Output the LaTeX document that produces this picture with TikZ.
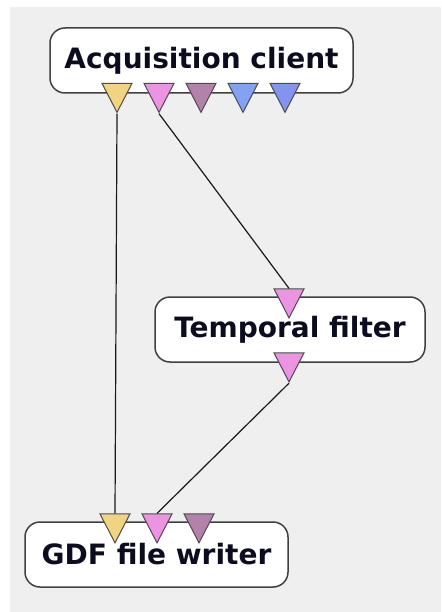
\documentclass[tikz,border=0pt]{standalone}
\usepackage{fontspec}
\setmainfont{DejaVu Sans}
\usetikzlibrary{math, shapes.geometric}

\definecolor{bggray}{HTML}{EFEFEF}
\definecolor{textnavy}{HTML}{0C0C20}
\definecolor{portyellow}{HTML}{F0D482}
\definecolor{portpink}{HTML}{EA94E2}
\definecolor{portmauve}{HTML}{B282AA}
\definecolor{portblue}{HTML}{84A2F2}
\definecolor{portviolet}{HTML}{8494EC}

\begin{document}
\begin{tikzpicture}[x=1pt, y=-1pt, line width=1.5pt,
    block/.style={draw=black!75, fill=white, rounded corners=15pt, minimum height=65pt,
        inner sep=0pt, font=\fontsize{28}{32}\selectfont\bfseries, text=textnavy},
    port/.style={isosceles triangle, isosceles triangle stretches, shape border rotate=270,
        minimum width=30pt, minimum height=29pt, inner sep=0pt,
        draw=black!70, line width=1pt, fill=#1},
    link/.style={draw=black!90, line width=1.2pt}]
    \tikzmath{
        \portstep=42;
        \acx=117;
        \gwx=115;
    }

    \useasboundingbox (0, 0) rectangle (441, 612);
    \fill [bggray] (10, 7) rectangle (441, 612);

    % boxes
    \node [block, minimum width=303pt] (acq) at (201.5, 60.5) {Acquisition client};
    \node [block, minimum width=270pt] (filt) at (290, 329.5) {Temporal filter};
    \node [block, minimum width=263pt] (gdf) at (156.5, 554.5) {GDF file writer};

    % outputs of the acquisition client
    \node [port=portyellow] (acq1) at (\acx, 92.5) {};
    \node [port=portpink] (acq2) at (\acx+\portstep, 92.5) {};
    \node [port=portmauve] (acq3) at (\acx+2*\portstep, 92.5) {};
    \node [port=portblue] (acq4) at (\acx+3*\portstep, 92.5) {};
    \node [port=portviolet] (acq5) at (\acx+4*\portstep, 92.5) {};

    % filter in / out
    \node [port=portpink] (filtin) at (289, 298) {};
    \node [port=portpink] (filtout) at (289, 362) {};

    % inputs of the writer
    \node [port=portyellow] (gdf1) at (\gwx, 523) {};
    \node [port=portpink] (gdf2) at (\gwx+\portstep, 523) {};
    \node [port=portmauve] (gdf3) at (\gwx+2*\portstep, 523) {};

    % links
    \draw [link] (acq1.apex) -- (gdf1.lower side);
    \draw [link] (acq2.apex) -- (filtin.lower side);
    \draw [link] (filtout.apex) -- (gdf2.lower side);
\end{tikzpicture}
\end{document}
